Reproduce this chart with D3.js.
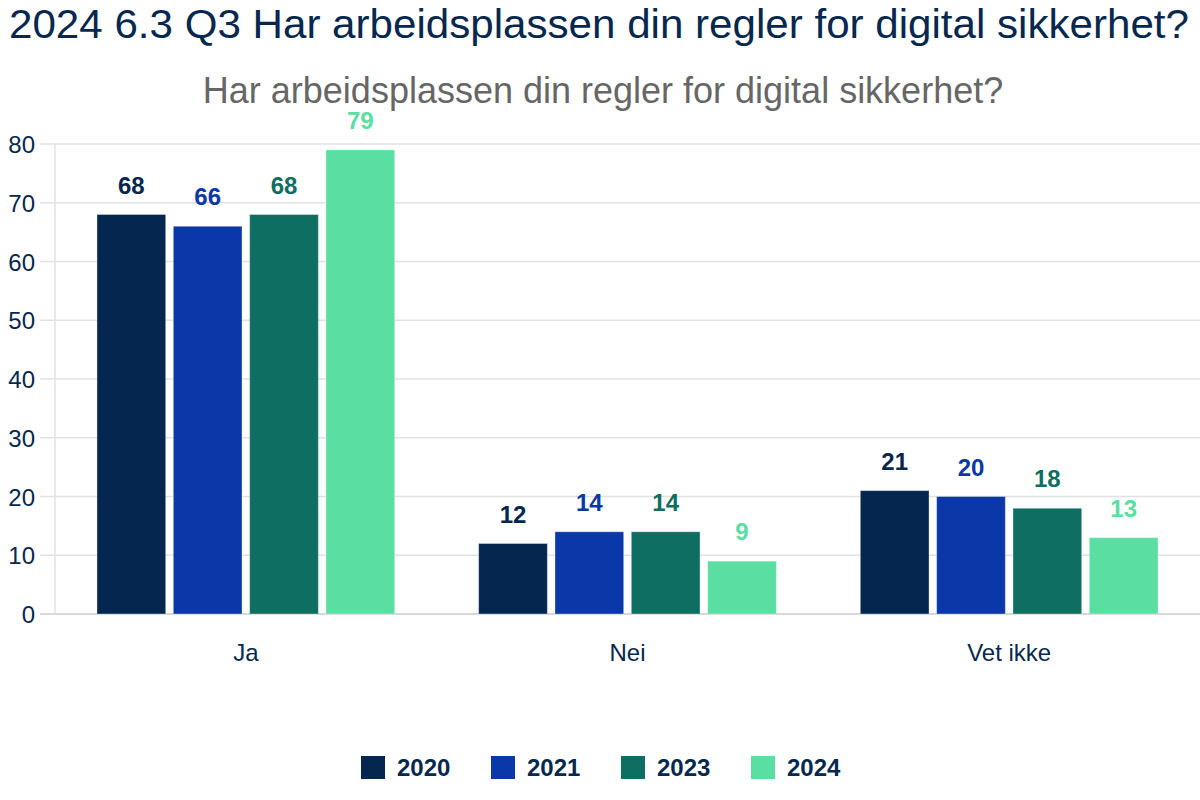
<!DOCTYPE html>
<html>
<head>
<meta charset="utf-8">
<script src="https://cdn.jsdelivr.net/npm/d3@7"></script>
<style>
  body { margin: 0; background: #fff; }
  text { font-family: "Liberation Sans", Arial, Helvetica, sans-serif; }
</style>
</head>
<body>
<svg id="chart_svg"></svg>
<script>
// Data
var categories = ['Ja', 'Nei', 'Vet ikke'];
var years = ['2020', '2021', '2023', '2024'];
var values2020 = [68, 12, 21];
var values2021 = [66, 14, 20];
var values2023 = [68, 14, 18];
var values2024 = [79, 9, 13];
var yTicks = [0, 10, 20, 30, 40, 50, 60, 70, 80];
var seriesColors = ['#04264f', '#0a38a8', '#0e6e62', '#5adea2'];

var series = [values2020, values2021, values2023, values2024];

var width = 1200, height = 800;
var margin = { top: 144, left: 55, right: 0, bottom: 186 };
var navy = '#06284f';

var svg = d3.select('#chart_svg')
    .attr('width', width)
    .attr('height', height);

// Titles
svg.append('text')
    .attr('x', 9)
    .attr('y', 38)
    .attr('fill', navy)
    .attr('font-size', 40)
    .attr('textLength', 1180)
    .attr('lengthAdjust', 'spacingAndGlyphs')
    .text('2024 6.3 Q3 Har arbeidsplassen din regler for digital sikkerhet?');

svg.append('text')
    .attr('x', 603)
    .attr('y', 103)
    .attr('text-anchor', 'middle')
    .attr('fill', '#666666')
    .attr('font-size', 36)
    .text('Har arbeidsplassen din regler for digital sikkerhet?');

// Scales
var x0 = d3.scaleBand()
    .domain(categories)
    .range([margin.left, width - margin.right])
    .paddingInner(0.22)
    .paddingOuter(0.11);

var x1 = d3.scaleBand()
    .domain(years)
    .range([0, x0.bandwidth()])
    .paddingInner(0.1)
    .paddingOuter(0);

var y = d3.scaleLinear()
    .domain([0, 80])
    .range([height - margin.bottom, margin.top]);

// Gridlines
var grid = svg.append('g').attr('class', 'grid');
grid.selectAll('line')
    .data(yTicks)
    .enter()
    .append('line')
    .attr('x1', 40)
    .attr('x2', width)
    .attr('y1', function(d) { return y(d); })
    .attr('y2', function(d) { return y(d); })
    .attr('stroke', function(d) { return d === 0 ? '#cccccc' : '#e2e2e2'; })
    .attr('stroke-width', 1.5);

// Vertical axis line
svg.append('line')
    .attr('x1', margin.left)
    .attr('x2', margin.left)
    .attr('y1', y(80))
    .attr('y2', y(0))
    .attr('stroke', '#e2e2e2')
    .attr('stroke-width', 1.5);

// Y axis labels
var yAxis = d3.axisLeft(y).tickValues(yTicks).tickSize(0).tickPadding(0);
var yg = svg.append('g')
    .attr('transform', 'translate(35,0)')
    .call(yAxis);
yg.select('.domain').remove();
yg.selectAll('text')
    .attr('fill', navy)
    .attr('font-size', 24)
    .attr('font-family', '"Liberation Sans", Arial, sans-serif')
    .attr('dy', '0.36em');

// X axis labels
var xAxis = d3.axisBottom(x0).tickSize(0).tickPadding(0);
var xg = svg.append('g')
    .attr('transform', 'translate(0,' + (y(0) + 30) + ')')
    .call(xAxis);
xg.select('.domain').remove();
xg.selectAll('text')
    .attr('fill', navy)
    .attr('font-size', 24)
    .attr('font-family', '"Liberation Sans", Arial, sans-serif');

// Bars
var groups = svg.append('g').attr('class', 'bars')
    .selectAll('g')
    .data(categories)
    .enter()
    .append('g')
    .attr('transform', function(c) { return 'translate(' + x0(c) + ',0)'; });

groups.selectAll('rect')
    .data(function(c, ci) {
        return years.map(function(yr, si) { return { year: yr, si: si, value: series[si][ci] }; });
    })
    .enter()
    .append('rect')
    .attr('x', function(d) { return x1(d.year); })
    .attr('y', function(d) { return y(d.value); })
    .attr('width', x1.bandwidth())
    .attr('height', function(d) { return y(0) - y(d.value); })
    .attr('fill', function(d) { return seriesColors[d.si]; })
    .attr('stroke', 'rgba(255,255,255,0.35)')
    .attr('stroke-width', 1);

// Value labels
groups.selectAll('text.val')
    .data(function(c, ci) {
        return years.map(function(yr, si) { return { year: yr, si: si, value: series[si][ci] }; });
    })
    .enter()
    .append('text')
    .attr('class', 'val')
    .attr('x', function(d) { return x1(d.year) + x1.bandwidth() / 2; })
    .attr('y', function(d) { return y(d.value) - 21; })
    .attr('text-anchor', 'middle')
    .attr('font-size', 24)
    .attr('font-weight', 'bold')
    .attr('fill', function(d) { return seriesColors[d.si]; })
    .text(function(d) { return d.value; });

// Legend
var legend = svg.append('g')
    .attr('transform', 'translate(361,756)');
var items = legend.selectAll('g')
    .data(years)
    .enter()
    .append('g')
    .attr('transform', function(d, i) { return 'translate(' + (i * 130) + ',0)'; });
items.append('rect')
    .attr('width', 24)
    .attr('height', 23)
    .attr('fill', function(d, i) { return seriesColors[i]; });
items.append('text')
    .attr('x', 36)
    .attr('y', 20)
    .attr('font-size', 24)
    .attr('font-weight', 'bold')
    .attr('fill', navy)
    .text(function(d) { return d; });
</script>
</body>
</html>
